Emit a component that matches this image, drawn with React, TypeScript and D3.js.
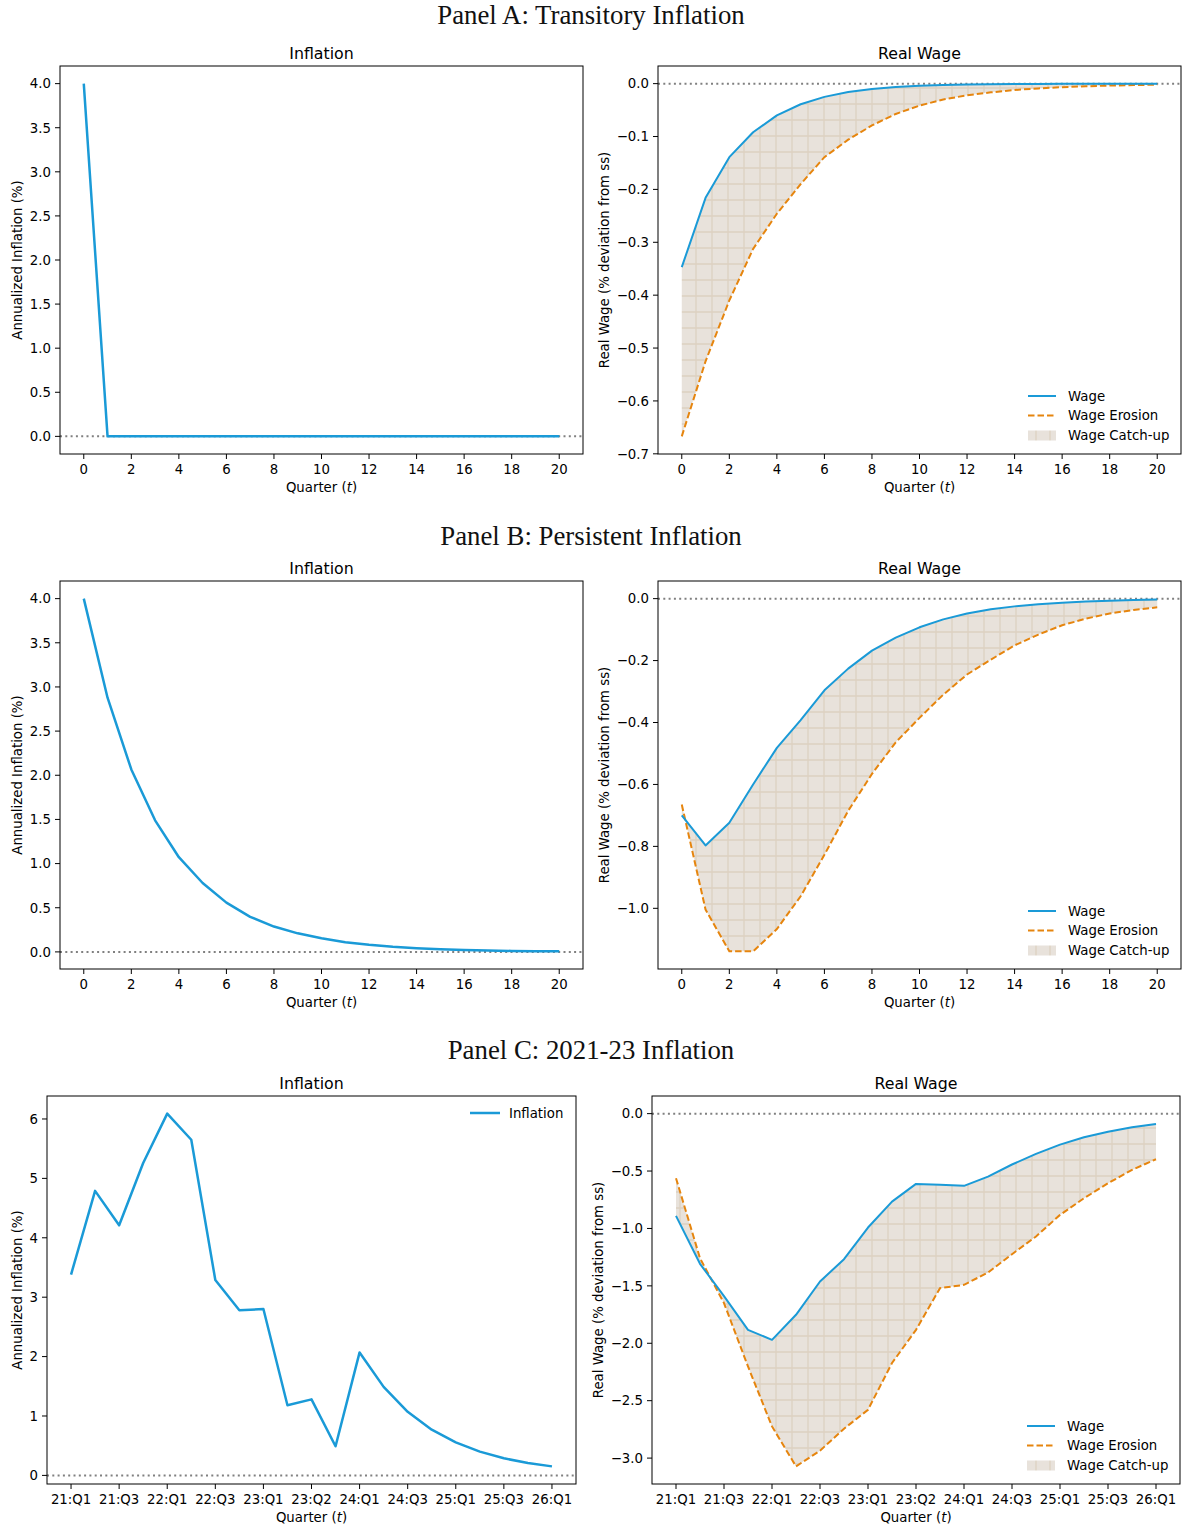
import React from "react";
import * as d3 from "d3";

// ---------- Data ----------
const QUARTERS = [0, 1, 2, 3, 4, 5, 6, 7, 8, 9, 10, 11, 12, 13, 14, 15, 16, 17, 18, 19, 20];

// Panel A: transitory inflation
const A_INFLATION = [4.0, 0, 0, 0, 0, 0, 0, 0, 0, 0, 0, 0, 0, 0, 0, 0, 0, 0, 0, 0, 0];
const A_WAGE = [-0.347, -0.216, -0.139, -0.092, -0.06, -0.039, -0.025, -0.016, -0.01, -0.0065, -0.004, -0.0027, -0.0017, -0.0011, -0.0007, -0.0005, -0.0003, -0.0002, -0.0001, -0.0001, 0];
const A_EROSION = [-0.667, -0.525, -0.41, -0.3125, -0.246, -0.19, -0.139, -0.106, -0.079, -0.0573, -0.0416, -0.03, -0.022, -0.0165, -0.012, -0.009, -0.0067, -0.005, -0.0037, -0.0027, -0.002];

// Panel B: persistent inflation
const B_INFLATION = [4.0, 2.878, 2.066, 1.49, 1.072, 0.78, 0.558, 0.397, 0.287, 0.21, 0.154, 0.11, 0.08, 0.057, 0.041, 0.03, 0.021, 0.015, 0.011, 0.008, 0.006];
const B_WAGE = [-0.7, -0.797, -0.724, -0.6, -0.482, -0.392, -0.296, -0.226, -0.168, -0.126, -0.0926, -0.067, -0.048, -0.0345, -0.025, -0.018, -0.013, -0.009, -0.0065, -0.0045, -0.003];
const B_EROSION = [-0.665, -1.004, -1.139, -1.139, -1.067, -0.961, -0.827, -0.685, -0.566, -0.464, -0.385, -0.31, -0.245, -0.197, -0.151, -0.116, -0.086, -0.0646, -0.048, -0.0366, -0.028];

// Panel C: 2021-23 inflation
const C_INFLATION = [3.38, 4.79, 4.21, 5.26, 6.09, 5.65, 3.29, 2.78, 2.8, 1.18, 1.28, 0.49, 2.07, 1.49, 1.07, 0.77, 0.556, 0.4, 0.288, 0.208, 0.152];
const C_WAGE = [-0.89, -1.308, -1.59, -1.883, -1.97, -1.752, -1.462, -1.268, -0.992, -0.766, -0.612, -0.62, -0.629, -0.548, -0.443, -0.351, -0.27, -0.206, -0.157, -0.119, -0.09];
const C_EROSION = [-0.562, -1.259, -1.65, -2.202, -2.724, -3.072, -2.936, -2.744, -2.579, -2.172, -1.883, -1.52, -1.491, -1.384, -1.224, -1.07, -0.882, -0.737, -0.606, -0.49, -0.397];

// Tick values / labels
const T_TICKS = [0, 2, 4, 6, 8, 10, 12, 14, 16, 18, 20];
const C_TICK_LABELS = ["21:Q1", "21:Q3", "22:Q1", "22:Q3", "23:Q1", "23:Q2", "24:Q1", "24:Q3", "25:Q1", "25:Q3", "26:Q1"];
const INFL_TICKS_AB = [0, 0.5, 1, 1.5, 2, 2.5, 3, 3.5, 4];
const WAGE_TICKS_A = [0, -0.1, -0.2, -0.3, -0.4, -0.5, -0.6, -0.7];
const WAGE_TICKS_B = [0, -0.2, -0.4, -0.6, -0.8, -1.0];
const INFL_TICKS_C = [0, 1, 2, 3, 4, 5, 6];
const WAGE_TICKS_C = [0, -0.5, -1.0, -1.5, -2.0, -2.5, -3.0];

const PANEL_TITLES = ["Panel A: Transitory Inflation", "Panel B: Persistent Inflation", "Panel C: 2021-23 Inflation"];

// ---------- Styles ----------
const BLUE = "#1a9ad7";
const ORANGE = "#e6850e";
const SANS = "DejaVu Sans, sans-serif";
const SERIF = "Liberation Serif, serif";
const TICK_FS = 13.3;
const TITLE_FS = 15.8;
const DASH = "6.5,3";

function padDomain(vals: number[], includeZero: boolean): [number, number] {
  let lo = d3.min(vals) as number;
  let hi = d3.max(vals) as number;
  if (includeZero) {
    lo = Math.min(lo, 0);
    hi = Math.max(hi, 0);
  }
  const m = (hi - lo) * 0.05;
  return [lo - m, hi + m];
}

const fmt = (v: number, dec: number) => {
  const s = Math.abs(v).toFixed(dec);
  return (v < 0 ? "\u2212" : "") + s;
};

type AxProps = {
  x0: number; x1: number; top: number; bottom: number;
  title: string;
  ylabel: string; ylabelX: number;
  yTicks: number[]; yDec: number;
  xTickLabels?: string[];
  kind: "infl" | "wage";
  infl?: number[];
  wage?: number[];
  erosion?: number[];
  inflLegend?: boolean;
};

function Axes(p: AxProps) {
  const x = d3.scaleLinear().domain([-1, 21]).range([p.x0, p.x1]);
  const vals = p.kind === "infl" ? (p.infl as number[]) : [...(p.wage as number[]), ...(p.erosion as number[])];
  const y = d3.scaleLinear().domain(padDomain(vals, p.kind === "wage")).range([p.bottom, p.top]);
  const line = d3.line<number>().x((_, i) => x(QUARTERS[i])).y((d) => y(d));
  const cx = (p.x0 + p.x1) / 2;
  const clipId = `clip-${p.x0}-${p.top}`;
  const els: React.ReactNode[] = [];

  if (p.kind === "wage") {
    const w = p.wage as number[];
    const e = p.erosion as number[];
    const area = d3.area<number>().x((_, i) => x(QUARTERS[i])).y0((_, i) => y(e[i])).y1((d) => y(d));
    els.push(<path key="area" d={area(w) || ""} fill="url(#hatch)" stroke="none" />);
  }

  return (
    <g>
      <defs>
        <clipPath id={clipId}>
          <rect x={p.x0} y={p.top} width={p.x1 - p.x0} height={p.bottom - p.top} />
        </clipPath>
      </defs>
      <g clipPath={`url(#${clipId})`}>
        {els}
        <line x1={p.x0} x2={p.x1} y1={y(0)} y2={y(0)} stroke="#808080" strokeWidth={2} strokeDasharray="2,3.3" />
        {p.kind === "infl" ? (
          <path d={line(p.infl as number[]) || ""} fill="none" stroke={BLUE} strokeWidth={2.5} strokeLinejoin="round" />
        ) : (
          <>
            <path d={line(p.erosion as number[]) || ""} fill="none" stroke={ORANGE} strokeWidth={2} strokeDasharray={DASH} />
            <path d={line(p.wage as number[]) || ""} fill="none" stroke={BLUE} strokeWidth={2} strokeLinejoin="round" />
          </>
        )}
      </g>
      <rect x={p.x0} y={p.top} width={p.x1 - p.x0} height={p.bottom - p.top} fill="none" stroke="#000" strokeWidth={1} />
      {T_TICKS.map((t, i) => (
        <g key={"xt" + t}>
          <line x1={x(t)} x2={x(t)} y1={p.bottom} y2={p.bottom + 5} stroke="#000" strokeWidth={1} />
          <text x={x(t)} y={p.bottom + 20} textAnchor="middle" fontFamily={SANS} fontSize={TICK_FS} fill="#000">
            {p.xTickLabels ? p.xTickLabels[i] : String(t)}
          </text>
        </g>
      ))}
      {p.yTicks.map((t) => (
        <g key={"yt" + t}>
          <line x1={p.x0 - 5} x2={p.x0} y1={y(t)} y2={y(t)} stroke="#000" strokeWidth={1} />
          <text x={p.x0 - 9} y={y(t)} dy="0.36em" textAnchor="end" fontFamily={SANS} fontSize={TICK_FS} fill="#000">
            {fmt(t, p.yDec)}
          </text>
        </g>
      ))}
      <text x={cx} y={p.top - 7.5} textAnchor="middle" fontFamily={SANS} fontSize={TITLE_FS} fill="#000">{p.title}</text>
      <text x={cx} y={p.bottom + 38} textAnchor="middle" fontFamily={SANS} fontSize={TICK_FS} fill="#000">
        Quarter (<tspan fontStyle="italic">t</tspan>)
      </text>
      <text transform={`translate(${p.ylabelX},${(p.top + p.bottom) / 2}) rotate(-90)`} dy="0.35em" textAnchor="middle" fontFamily={SANS} fontSize={TICK_FS} fill="#000">
        {p.ylabel}
      </text>
      {p.kind === "wage" && (
        <g>
          {[
            { label: "Wage", dy: -58 },
            { label: "Wage Erosion", dy: -38.5 },
            { label: "Wage Catch-up", dy: -18.5 },
          ].map((r, i) => {
            const yy = p.bottom + r.dy;
            const hx0 = p.x1 - 153;
            const hx1 = p.x1 - 125;
            return (
              <g key={r.label}>
                {i === 0 && <line x1={hx0} x2={hx1} y1={yy} y2={yy} stroke={BLUE} strokeWidth={2} />}
                {i === 1 && <line x1={hx0} x2={hx1} y1={yy} y2={yy} stroke={ORANGE} strokeWidth={2} strokeDasharray={DASH} />}
                {i === 2 && <rect x={hx0} y={yy - 5} width={hx1 - hx0} height={10} fill="url(#hatchLegend)" />}
                <text x={p.x1 - 113} y={yy} dy="0.36em" fontFamily={SANS} fontSize={TICK_FS} fill="#000">{r.label}</text>
              </g>
            );
          })}
        </g>
      )}
      {p.inflLegend && (
        <g>
          <line x1={p.x1 - 106} x2={p.x1 - 76} y1={p.top + 17} y2={p.top + 17} stroke={BLUE} strokeWidth={2.5} />
          <text x={p.x1 - 67} y={p.top + 17} dy="0.36em" fontFamily={SANS} fontSize={TICK_FS} fill="#000">Inflation</text>
        </g>
      )}
    </g>
  );
}

export default function App() {
  const W = 1182;
  const H = 1525;
  const rows = [
    { titleY: 24, top: 66, bottom: 454 },
    { titleY: 545, top: 581, bottom: 969 },
    { titleY: 1059, top: 1096, bottom: 1484 },
  ];
  const wageLabel = "Real Wage (% deviation from ss)";
  const inflLabel = "Annualized Inflation (%)";
  return (
    <svg width={W} height={H} style={{ position: "absolute", left: 0, top: 0, background: "#fff" }}>
      <defs>
        <pattern id="hatch" patternUnits="userSpaceOnUse" width={16} height={16}>
          <rect width={16} height={16} fill="#e8e2db" />
          <path d="M8 0V16M0 8H16" stroke="#ddd1c1" strokeWidth={1.3} />
        </pattern>
        <pattern id="hatchLegend" patternUnits="userSpaceOnUse" width={14} height={16} x={1} y={0}>
          <rect width={14} height={16} fill="#e8e2db" />
          <path d="M13 0V16" stroke="#ddd1c1" strokeWidth={1.3} />
        </pattern>
      </defs>
      <rect width={W} height={H} fill="#fff" />
      {rows.map((r, i) => (
        <text key={i} x={W / 2} y={r.titleY} textAnchor="middle" fontFamily={SERIF} fontSize={26.8} fill="#111">
          {PANEL_TITLES[i]}
        </text>
      ))}
      <Axes x0={60} x1={583} top={rows[0].top} bottom={rows[0].bottom} title="Inflation" ylabel={inflLabel} ylabelX={17}
        yTicks={INFL_TICKS_AB} yDec={1} kind="infl" infl={A_INFLATION} />
      <Axes x0={658} x1={1181} top={rows[0].top} bottom={rows[0].bottom} title="Real Wage" ylabel={wageLabel} ylabelX={604}
        yTicks={WAGE_TICKS_A} yDec={1} kind="wage" wage={A_WAGE} erosion={A_EROSION} />
      <Axes x0={60} x1={583} top={rows[1].top} bottom={rows[1].bottom} title="Inflation" ylabel={inflLabel} ylabelX={17}
        yTicks={INFL_TICKS_AB} yDec={1} kind="infl" infl={B_INFLATION} />
      <Axes x0={658} x1={1181} top={rows[1].top} bottom={rows[1].bottom} title="Real Wage" ylabel={wageLabel} ylabelX={604}
        yTicks={WAGE_TICKS_B} yDec={1} kind="wage" wage={B_WAGE} erosion={B_EROSION} />
      <Axes x0={47} x1={576} top={rows[2].top} bottom={rows[2].bottom} title="Inflation" ylabel={inflLabel} ylabelX={17}
        yTicks={INFL_TICKS_C} yDec={0} kind="infl" infl={C_INFLATION} xTickLabels={C_TICK_LABELS} inflLegend />
      <Axes x0={652} x1={1180} top={rows[2].top} bottom={rows[2].bottom} title="Real Wage" ylabel={wageLabel} ylabelX={598}
        yTicks={WAGE_TICKS_C} yDec={1} kind="wage" wage={C_WAGE} erosion={C_EROSION} xTickLabels={C_TICK_LABELS} />
    </svg>
  );
}
